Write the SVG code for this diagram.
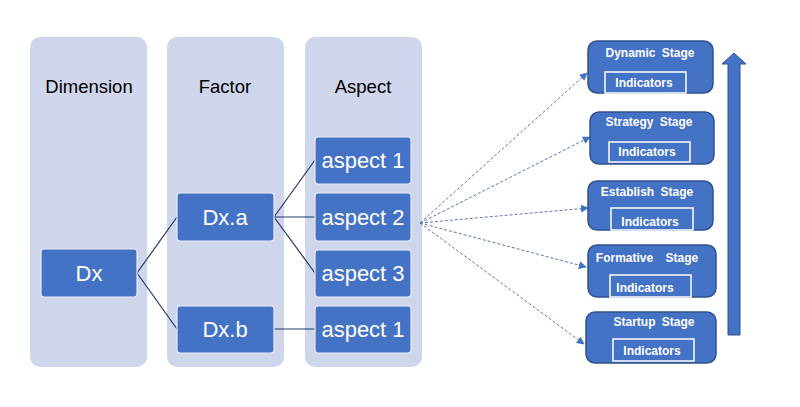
<svg xmlns="http://www.w3.org/2000/svg" width="800" height="407" viewBox="0 0 800 407">
<style>
.col{fill:#cfd5ea}
.hdr{font-family:"Liberation Sans",Arial,sans-serif;font-size:18.5px;fill:#000;text-anchor:middle}
.node rect{fill:#4472c4;stroke:#e8ecf6;stroke-width:1.2}
.node text{font-family:"Liberation Sans",Arial,sans-serif;font-size:22px;fill:#fff;text-anchor:middle}
.stage rect.b{fill:#4472c4;stroke:#2f528f;stroke-width:1.5}
.stage rect.i{fill:#4472c4;stroke:#fff;stroke-width:1.5}
.stage text{font-family:"Liberation Sans",Arial,sans-serif;font-weight:bold;font-size:12px;fill:#fff;text-anchor:middle;word-spacing:3px}
.tree{stroke:#1f3864;stroke-width:1.2;fill:none}
.dash{stroke:#5b76b0;stroke-width:1;stroke-dasharray:3 2;fill:none;marker-end:url(#ah)}
</style>
<defs>
<marker id="ah" viewBox="0 0 10 10" refX="9" refY="5" markerWidth="8" markerHeight="8" markerUnits="userSpaceOnUse" orient="auto">
<path d="M0,0 L10,5 L0,10 z" fill="#4472c4"/>
</marker>
</defs>
<rect width="800" height="407" fill="#fff"/>
<g id="columns">
<rect class="col" x="30" y="37" width="117" height="330" rx="10"/>
<rect class="col" x="167" y="37" width="117" height="330" rx="10"/>
<rect class="col" x="305" y="37" width="117" height="330" rx="10"/>
<text class="hdr" x="89" y="93">Dimension</text>
<text class="hdr" x="225" y="93">Factor</text>
<text class="hdr" x="363" y="93">Aspect</text>
</g>
<g id="connectors">
<path class="tree" d="M137,273 L177,217 M137,273 L177,329 M274,217 L315,160 M274,217 L315,217 M274,217 L315,273 M274,329 L315,329"/>
<path class="dash" d="M420,223 L587,73"/>
<path class="dash" d="M420,223 L590,137"/>
<path class="dash" d="M420,223 L588,208"/>
<path class="dash" d="M420,223 L586,267"/>
<path class="dash" d="M420,223 L584,344"/>
</g>
<g id="dx" class="node"><rect x="41" y="249" width="96" height="48" rx="3"/><text x="89" y="281">Dx</text></g>
<g id="dxa" class="node"><rect x="177" y="193" width="97" height="48" rx="3"/><text x="225" y="225">Dx.a</text></g>
<g id="dxb" class="node"><rect x="177" y="306" width="97" height="47" rx="3"/><text x="225" y="337">Dx.b</text></g>
<g id="aspect1a" class="node"><rect x="315" y="137" width="96" height="47" rx="3"/><text x="363" y="168">aspect 1</text></g>
<g id="aspect2" class="node"><rect x="315" y="193" width="96" height="48" rx="3"/><text x="363" y="225">aspect 2</text></g>
<g id="aspect3" class="node"><rect x="315" y="250" width="96" height="47" rx="3"/><text x="363" y="281">aspect 3</text></g>
<g id="aspect1b" class="node"><rect x="315" y="306" width="96" height="47" rx="3"/><text x="363" y="337">aspect 1</text></g>
<g id="dynamic" class="stage">
<rect class="b" x="588" y="41" width="125" height="52" rx="9"/>
<text x="650" y="57">Dynamic Stage</text>
<rect class="i" x="605" y="72" width="81" height="21"/>
<text x="644" y="87">Indicators</text>
</g>
<g id="strategy" class="stage">
<rect class="b" x="590" y="112" width="124" height="52" rx="9"/>
<text x="649" y="126">Strategy Stage</text>
<rect class="i" x="609" y="142" width="81" height="20"/>
<text x="647" y="156">Indicators</text>
</g>
<g id="establish" class="stage">
<rect class="b" x="588" y="181" width="125" height="49" rx="9"/>
<text x="647" y="196">Establish Stage</text>
<rect class="i" x="611" y="208" width="82" height="22"/>
<text x="650" y="226">Indicators</text>
</g>
<g id="formative" class="stage">
<rect class="b" x="588" y="245" width="128" height="52" rx="9"/>
<text x="647" y="262" style="word-spacing:9px">Formative Stage</text>
<rect class="i" x="610" y="275" width="81" height="22"/>
<text x="645" y="292">Indicators</text>
</g>
<g id="startup" class="stage">
<rect class="b" x="586" y="312" width="130" height="51" rx="9"/>
<text x="654" y="326">Startup Stage</text>
<rect class="i" x="613" y="339" width="81" height="22"/>
<text x="652" y="355">Indicators</text>
</g>
<g id="bigarrow">
<path d="M728,335 L728,64 L722,64 L734,53 L746,64 L740,64 L740,335 z" fill="#4472c4" stroke="#2f528f" stroke-width="1"/>
</g>
</svg>
